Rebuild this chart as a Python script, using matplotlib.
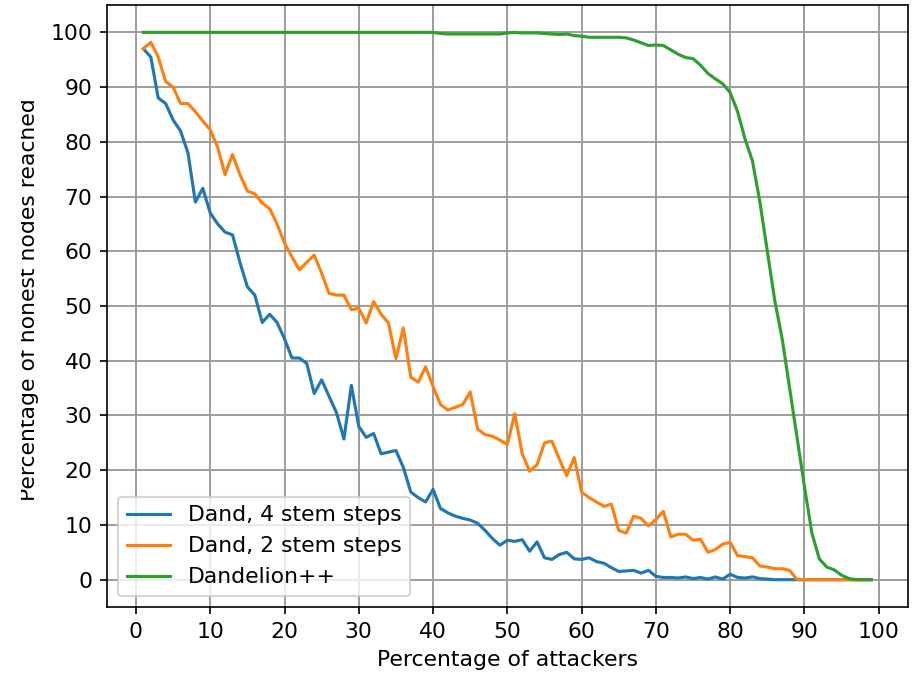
import numpy as np
import matplotlib
matplotlib.use("Agg")
import matplotlib.pyplot as plt
from matplotlib.patches import Rectangle

# percentage of attackers (1..99)
attackers = np.arange(1, 100)

stem4 = [97, 95.5, 88, 87, 84, 82, 78, 69, 71.5, 67,
         65, 63.5, 63, 58, 53.5, 52, 47, 48.5, 47, 44,
         40.5, 40.5, 39.5, 34, 36.5, 33.5, 30.5, 25.7, 35.5, 28,
         26, 26.7, 23, 23.3, 23.6, 20.5, 16, 15, 14.2, 16.5,
         13, 12.2, 11.6, 11.2, 10.9, 10.3, 9, 7.5, 6.3, 7.2,
         7, 7.3, 5.2, 6.9, 4, 3.7, 4.6, 5, 3.8, 3.7,
         4, 3.3, 3, 2.2, 1.5, 1.6, 1.7, 1.2, 1.7, 0.6,
         0.4, 0.4, 0.3, 0.5, 0.2, 0.4, 0.1, 0.5, 0.1, 1,
         0.4, 0.3, 0.5, 0.2, 0.1, 0, 0, 0, 0, 0,
         0, 0, 0, 0, 0, 0, 0, 0, 0]

stem2 = [97, 98.2, 95.5, 91, 90, 87, 87, 85.5, 83.8, 82.2,
         79, 74, 77.7, 74, 71, 70.5, 68.8, 67.8, 65, 61.5,
         59, 56.6, 58, 59.3, 56, 52.3, 52, 52, 49.3, 49.6,
         46.9, 50.8, 48.5, 46.9, 40.4, 46, 37, 36.1, 38.9, 35.3,
         32, 31, 31.5, 32, 34.3, 27.5, 26.5, 26.2, 25.5, 24.7,
         30.3, 23, 19.8, 21, 25, 25.3, 22, 19, 22.3, 16,
         15, 14.2, 13.4, 13.8, 9, 8.5, 11.6, 11.2, 9.8, 11,
         12.5, 7.8, 8.3, 8.3, 7.2, 7.4, 5, 5.5, 6.5, 6.8,
         4.4, 4.2, 4, 2.5, 2.3, 2, 2, 1.7, 0, 0,
         0, 0, 0, 0, 0, 0, 0, 0, 0]

dandelion_pp = [100] * 40 + [
    99.8, 99.7, 99.7, 99.7, 99.7, 99.7, 99.7, 99.7, 99.7, 99.9,
    100, 99.9, 99.9, 99.9, 99.8, 99.7, 99.6, 99.7, 99.4, 99.3,
    99.1, 99.1, 99.1, 99.1, 99.1, 99, 98.6, 98.1, 97.6, 97.7,
    97.6, 96.8, 96, 95.4, 95.2, 94, 92.5, 91.5, 90.6, 89,
    85.5, 80.5, 76.5, 69, 60, 51, 44, 35, 26, 17,
    8.5, 3.8, 2.3, 1.8, 0.8, 0.2, 0, 0, 0]

labels = ["Dand, 4 stem steps", "Dand, 2 stem steps", "Dandelion++"]

plt.rcParams["font.size"] = 10.5

fig = plt.figure(figsize=(6.08, 4.5), dpi=150)
ax = fig.add_axes([0.1173, 0.1007, 0.878, 0.8919])

ax.plot(attackers, stem4, label=labels[0])
ax.plot(attackers, stem2, label=labels[1])
ax.plot(attackers, dandelion_pp, label=labels[2])

ax.set_xticks(np.arange(0, 101, 10))
ax.set_yticks(np.arange(0, 101, 10))
ax.grid(color="0.6", linewidth=0.9)
ax.set_xlabel("Percentage of attackers")
ax.set_ylabel("Percentage of honest nodes reached")
ax.yaxis.set_label_coords(-0.085, 0.51)
ax.legend(loc="lower left", fontsize=10.5)

# the reference is cropped through the y label
fig.patches.append(Rectangle((0, 0), 21 / 912, 1, transform=fig.transFigure,
                             facecolor="white", edgecolor="none", zorder=5))

fig.savefig("out.png", dpi=150)
